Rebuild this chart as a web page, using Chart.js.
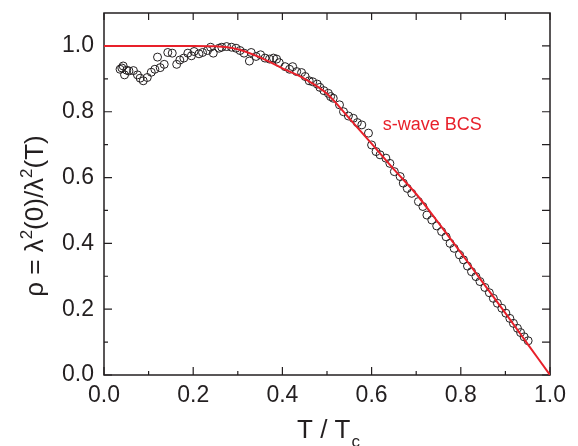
<!DOCTYPE html>
<html>
<head>
<meta charset="utf-8">
<script src="https://cdn.jsdelivr.net/npm/chart.js@4/dist/chart.umd.min.js"></script>
<style>
html,body{margin:0;padding:0;background:#fff;}
#wrap{width:578px;height:446px;position:relative;}
</style>
</head>
<body>
<div id="wrap"><canvas id="c" width="578" height="446"></canvas></div>
<script>
// Measured data (T/Tc, rho)
const dataT = [0.036,0.040,0.043,0.046,0.051,0.056,0.066,0.075,0.081,0.088,0.097,0.106,0.114,0.120,0.126,0.135,0.143,0.153,0.163,0.170,0.179,0.188,0.196,0.202,0.213,0.221,0.232,0.239,0.245,0.258,0.264,0.275,0.286,0.296,0.305,0.314,0.326,0.330,0.341,0.351,0.361,0.371,0.380,0.387,0.393,0.406,0.416,0.423,0.432,0.443,0.451,0.460,0.468,0.478,0.484,0.493,0.503,0.508,0.514,0.528,0.537,0.548,0.559,0.568,0.578,0.593,0.600,0.610,0.619,0.632,0.641,0.651,0.664,0.671,0.680,0.690,0.705,0.715,0.724,0.735,0.746,0.757,0.767,0.776,0.785,0.797,0.806,0.815,0.824,0.834,0.843,0.854,0.864,0.873,0.882,0.892,0.901,0.910,0.918,0.927,0.934,0.942,0.951];
const dataRho = [0.929,0.933,0.939,0.912,0.926,0.924,0.925,0.912,0.902,0.894,0.904,0.920,0.929,0.966,0.934,0.944,0.980,0.978,0.944,0.957,0.963,0.978,0.970,0.983,0.976,0.980,0.986,0.996,0.978,0.993,0.996,0.998,0.996,0.993,0.986,0.978,0.954,0.980,0.968,0.973,0.963,0.960,0.963,0.960,0.949,0.937,0.929,0.937,0.922,0.919,0.907,0.894,0.891,0.884,0.874,0.864,0.856,0.846,0.841,0.821,0.800,0.787,0.780,0.767,0.760,0.735,0.699,0.679,0.669,0.659,0.643,0.618,0.603,0.583,0.567,0.552,0.527,0.512,0.486,0.471,0.453,0.436,0.420,0.400,0.385,0.365,0.350,0.331,0.314,0.299,0.284,0.266,0.250,0.233,0.218,0.203,0.188,0.172,0.157,0.142,0.129,0.116,0.104];
// s-wave BCS curve
const bcsT = [0,0.05,0.1,0.15,0.2,0.25,0.3,0.35,0.4,0.45,0.5,0.55,0.6,0.65,0.7,0.75,0.8,0.85,0.9,0.95,1.0];
const bcsRho = [1.0,1.0,1.0,1.0,1.0,0.999,0.99,0.965,0.932,0.9,0.855,0.78,0.703,0.625,0.55,0.462,0.372,0.28,0.188,0.094,0];
const xTicks = [0,0.2,0.4,0.6,0.8,1.0];
const yTicks = [0,0.2,0.4,0.6,0.8,1.0];
const xMinor = [0.1,0.3,0.5,0.7,0.9];
const yMinor = [0.1,0.3,0.5,0.7,0.9];

const FONT = "'Liberation Sans', Arial, Helvetica, sans-serif";
const INK = '#231f20';
const RED = '#e8202a';

const decor = {
  id: 'decor',
  beforeDatasetsDraw(chart) {
    const {ctx, chartArea: a, scales: {x, y}} = chart;
    ctx.save();
    ctx.strokeStyle = INK;
    ctx.lineWidth = 1.5;
    ctx.strokeRect(a.left, a.top, a.right - a.left, a.bottom - a.top);
    ctx.lineWidth = 1.2;
    ctx.beginPath();
    xTicks.forEach(v => { const p = x.getPixelForValue(v);
      ctx.moveTo(p, a.bottom); ctx.lineTo(p, a.bottom - 8);
      ctx.moveTo(p, a.top); ctx.lineTo(p, a.top + 7); });
    xMinor.forEach(v => { const p = x.getPixelForValue(v);
      ctx.moveTo(p, a.bottom); ctx.lineTo(p, a.bottom - 4);
      ctx.moveTo(p, a.top); ctx.lineTo(p, a.top + 7); });
    yTicks.forEach(v => { const p = y.getPixelForValue(v);
      ctx.moveTo(a.left, p); ctx.lineTo(a.left + 8, p);
      ctx.moveTo(a.right, p); ctx.lineTo(a.right - 8, p); });
    yMinor.forEach(v => { const p = y.getPixelForValue(v);
      ctx.moveTo(a.left, p); ctx.lineTo(a.left + 4, p);
      ctx.moveTo(a.right, p); ctx.lineTo(a.right - 8, p); });
    ctx.stroke();
    ctx.restore();
  },
  afterDraw(chart) {
    const {ctx, chartArea: a} = chart;
    ctx.save();
    ctx.fillStyle = INK;
    ctx.textBaseline = 'alphabetic';
    // x title: T / Tc
    const big = "26px " + FONT, small = "17px " + FONT;
    ctx.font = big;
    const s1 = 'T / T';
    const w1 = ctx.measureText(s1).width;
    ctx.font = small;
    const w2 = ctx.measureText('c').width;
    let sx = (a.left + a.right) / 2 - (w1 + w2) / 2 + 1;
    const by = 438;
    ctx.font = big; ctx.fillText(s1, sx, by);
    ctx.font = small; ctx.fillText('c', sx + w1 + 1, by + 9);
    // y title: rho = lambda^2(0)/lambda^2(T)
    ctx.translate(43, 216);
    ctx.rotate(-Math.PI / 2);
    const parts = [['ρ = λ', big, 0], ['2', small, -11], ['(0)/λ', big, 0], ['2', small, -11], ['(T)', big, 0]];
    let total = 0;
    parts.forEach(p => { ctx.font = p[1]; total += ctx.measureText(p[0]).width; });
    let px = -total / 2;
    parts.forEach(p => { ctx.font = p[1]; ctx.fillText(p[0], px, p[2]); px += ctx.measureText(p[0]).width; });
    ctx.restore();
    // annotation
    ctx.save();
    ctx.fillStyle = RED;
    ctx.font = "18px " + FONT;
    ctx.textBaseline = 'middle';
    ctx.fillText('s-wave BCS', chart.scales.x.getPixelForValue(0.625), chart.scales.y.getPixelForValue(0.76));
    ctx.restore();
  }
};

new Chart(document.getElementById('c'), {
  type: 'scatter',
  data: {
    datasets: [
      {
        type: 'line',
        label: 's-wave BCS',
        data: bcsT.map((t, i) => ({x: t, y: bcsRho[i]})),
        borderColor: RED,
        borderWidth: 2,
        pointRadius: 0,
        fill: false,
        cubicInterpolationMode: 'monotone'
      },
      {
        label: 'data',
        data: dataT.map((t, i) => ({x: t, y: dataRho[i]})),
        showLine: false,
        pointStyle: 'circle',
        pointRadius: 4,
        borderColor: INK,
        borderWidth: 1,
        backgroundColor: 'rgba(0,0,0,0)'
      }
    ]
  },
  options: {
    responsive: false,
    animation: false,
    layout: {padding: {top: 13, right: 28, left: 0, bottom: 0}},
    plugins: {legend: {display: false}, tooltip: {enabled: false}},
    scales: {
      x: {
        type: 'linear', min: 0, max: 1,
        afterBuildTicks: s => { s.ticks = xTicks.map(v => ({value: v})); },
        afterFit: s => { s.height = 71; s.paddingLeft = 0; s.paddingRight = 0; },
        grid: {display: false, drawTicks: false},
        border: {display: false},
        ticks: {padding: 7, color: INK, font: {family: FONT, size: 23}, callback: v => v.toFixed(1), maxRotation: 0}
      },
      y: {
        type: 'linear', min: 0, max: 1.1,
        afterBuildTicks: s => { s.ticks = yTicks.map(v => ({value: v})); },
        afterFit: s => { s.width = 104; s.paddingTop = 0; s.paddingBottom = 0; },
        grid: {display: false, drawTicks: false},
        border: {display: false},
        ticks: {padding: 10, color: INK, font: {family: FONT, size: 23}, callback: v => v.toFixed(1)}
      }
    }
  },
  plugins: [decor]
});
</script>
</body>
</html>
